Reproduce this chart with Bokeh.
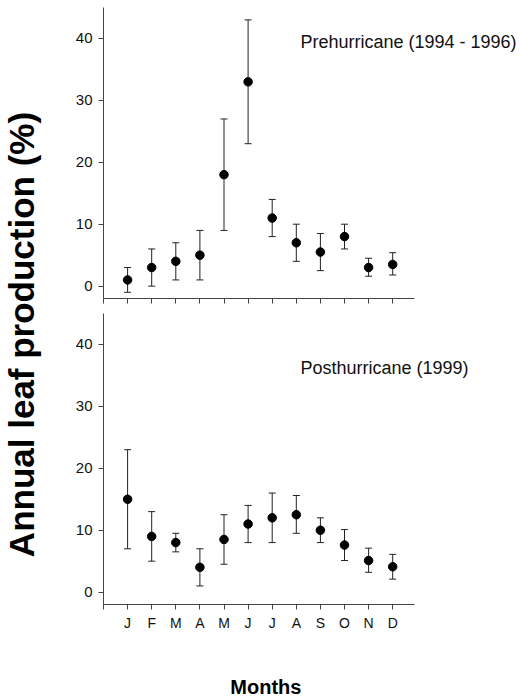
import math
from bokeh.plotting import figure
from bokeh.models import ColumnDataSource, Whisker, TeeHead, FixedTicker, Label, Range1d
from bokeh.layouts import row, column
from bokeh.embed import file_html
from bokeh.resources import INLINE

# ---- data ----
months = ["J", "F", "M", "A", "M", "J", "J", "A", "S", "O", "N", "D"]
month_pos = [1, 2, 3, 4, 5, 6, 7, 8, 9, 10, 11, 12]

pre_mean = [1, 3, 4, 5, 18, 33, 11, 7, 5.5, 8, 3, 3.5]
pre_upper = [3, 6, 7, 9, 27, 43, 14, 10, 8.5, 10, 4.5, 5.4]
pre_lower = [-1, 0, 1, 1, 9, 23, 8, 4, 2.5, 6, 1.6, 1.8]

post_mean = [15, 9, 8, 4, 8.5, 11, 12, 12.5, 10, 7.6, 5.1, 4.1]
post_upper = [23, 13, 9.5, 7, 12.5, 14, 16, 15.6, 12, 10.1, 7.1, 6.1]
post_lower = [7, 5, 6.5, 1, 4.5, 8, 8, 9.5, 8, 5.1, 3.2, 2.1]

y_ticks = [0, 10, 20, 30, 40]

FONT = "Liberation Sans"
AX = "#444444"
PW = 453          # panel width
LEFT = 35         # panel left border


def panel(mean, upper, lower, text, text_y, height, border_top, border_bottom, show_labels):
    frame_w = PW - LEFT
    p = figure(width=PW, height=height, x_range=Range1d(0, frame_w / 24.1), y_range=Range1d(-2, 45),
               output_backend="svg", toolbar_location=None,
               min_border_left=LEFT, min_border_right=0, min_border_top=border_top,
               min_border_bottom=border_bottom)
    p.outline_line_color = None
    p.grid.visible = False
    p.background_fill_color = "white"
    p.border_fill_color = "white"

    src = ColumnDataSource(dict(x=month_pos, mean=mean, upper=upper, lower=lower))
    w = Whisker(source=src, base="x", upper="upper", lower="lower",
                line_color="#222222", line_width=1,
                upper_head=TeeHead(size=7, line_color="#222222", line_width=1),
                lower_head=TeeHead(size=7, line_color="#222222", line_width=1))
    p.add_layout(w)
    p.scatter("x", "mean", source=src, size=8.5, color="black")

    p.xaxis.ticker = FixedTicker(ticks=[0] + month_pos)
    p.xaxis.bounds = (0, 12.9)
    overrides = {0: ""}
    for xp, m in zip(month_pos, months):
        overrides[xp] = m if show_labels else ""
    p.xaxis.major_label_overrides = overrides
    p.yaxis.ticker = FixedTicker(ticks=y_ticks)

    for ax in (p.xaxis, p.yaxis):
        ax.axis_line_color = AX
        ax.axis_line_width = 1
        ax.major_tick_line_color = AX
        ax.major_tick_out = 5
        ax.major_tick_in = 0
        ax.minor_tick_line_color = None
        ax.major_label_text_font = FONT
        ax.major_label_text_color = "#111111"
    p.yaxis.major_label_text_font_size = "15px"
    p.yaxis.major_label_standoff = 6
    if show_labels:
        p.xaxis.major_label_text_font_size = "14px"
        p.xaxis.major_label_standoff = 5
    else:
        p.xaxis.major_label_text_font_size = "1px"
        p.xaxis.major_label_standoff = 0

    p.add_layout(Label(x=8.17, y=text_y, text=text, text_font=FONT, text_font_size="18px",
                       text_color="#111111", text_baseline="alphabetic", text_align="left"))
    return p


p1 = panel(pre_mean, pre_upper, pre_lower, "Prehurricane (1994 - 1996)", 39.5, 313, 7, 15, False)
p2 = panel(post_mean, post_upper, post_lower, "Posthurricane (1999)", 36.2, 323, 0, 32, True)

mlab = figure(width=PW, height=60, x_range=Range1d(0, PW), y_range=Range1d(0, 60),
              output_backend="svg", toolbar_location=None,
              x_axis_type=None, y_axis_type=None,
              min_border_left=0, min_border_right=0, min_border_top=0, min_border_bottom=0)
mlab.outline_line_color = None
mlab.grid.visible = False
mlab.add_layout(Label(x=176, y=10, text="Months", text_font=FONT, text_font_size="20px",
                      text_font_style="bold", text_color="black",
                      text_align="center", text_baseline="alphabetic"))

ylab = figure(width=68, height=696, x_range=Range1d(0, 68), y_range=Range1d(0, 696),
              output_backend="svg", toolbar_location=None,
              x_axis_type=None, y_axis_type=None,
              min_border_left=0, min_border_right=0, min_border_top=0, min_border_bottom=0)
ylab.outline_line_color = None
ylab.grid.visible = False
ylab.add_layout(Label(x=21, y=362, text="Annual leaf production (%)", angle=math.pi / 2,
                      text_font=FONT, text_font_size="35px", text_font_style="bold",
                      text_color="black", text_align="center", text_baseline="alphabetic"))

layout = row(ylab, column(p1, p2, mlab, spacing=0), spacing=0)

open("out.html", "w").write(file_html(layout, INLINE))
